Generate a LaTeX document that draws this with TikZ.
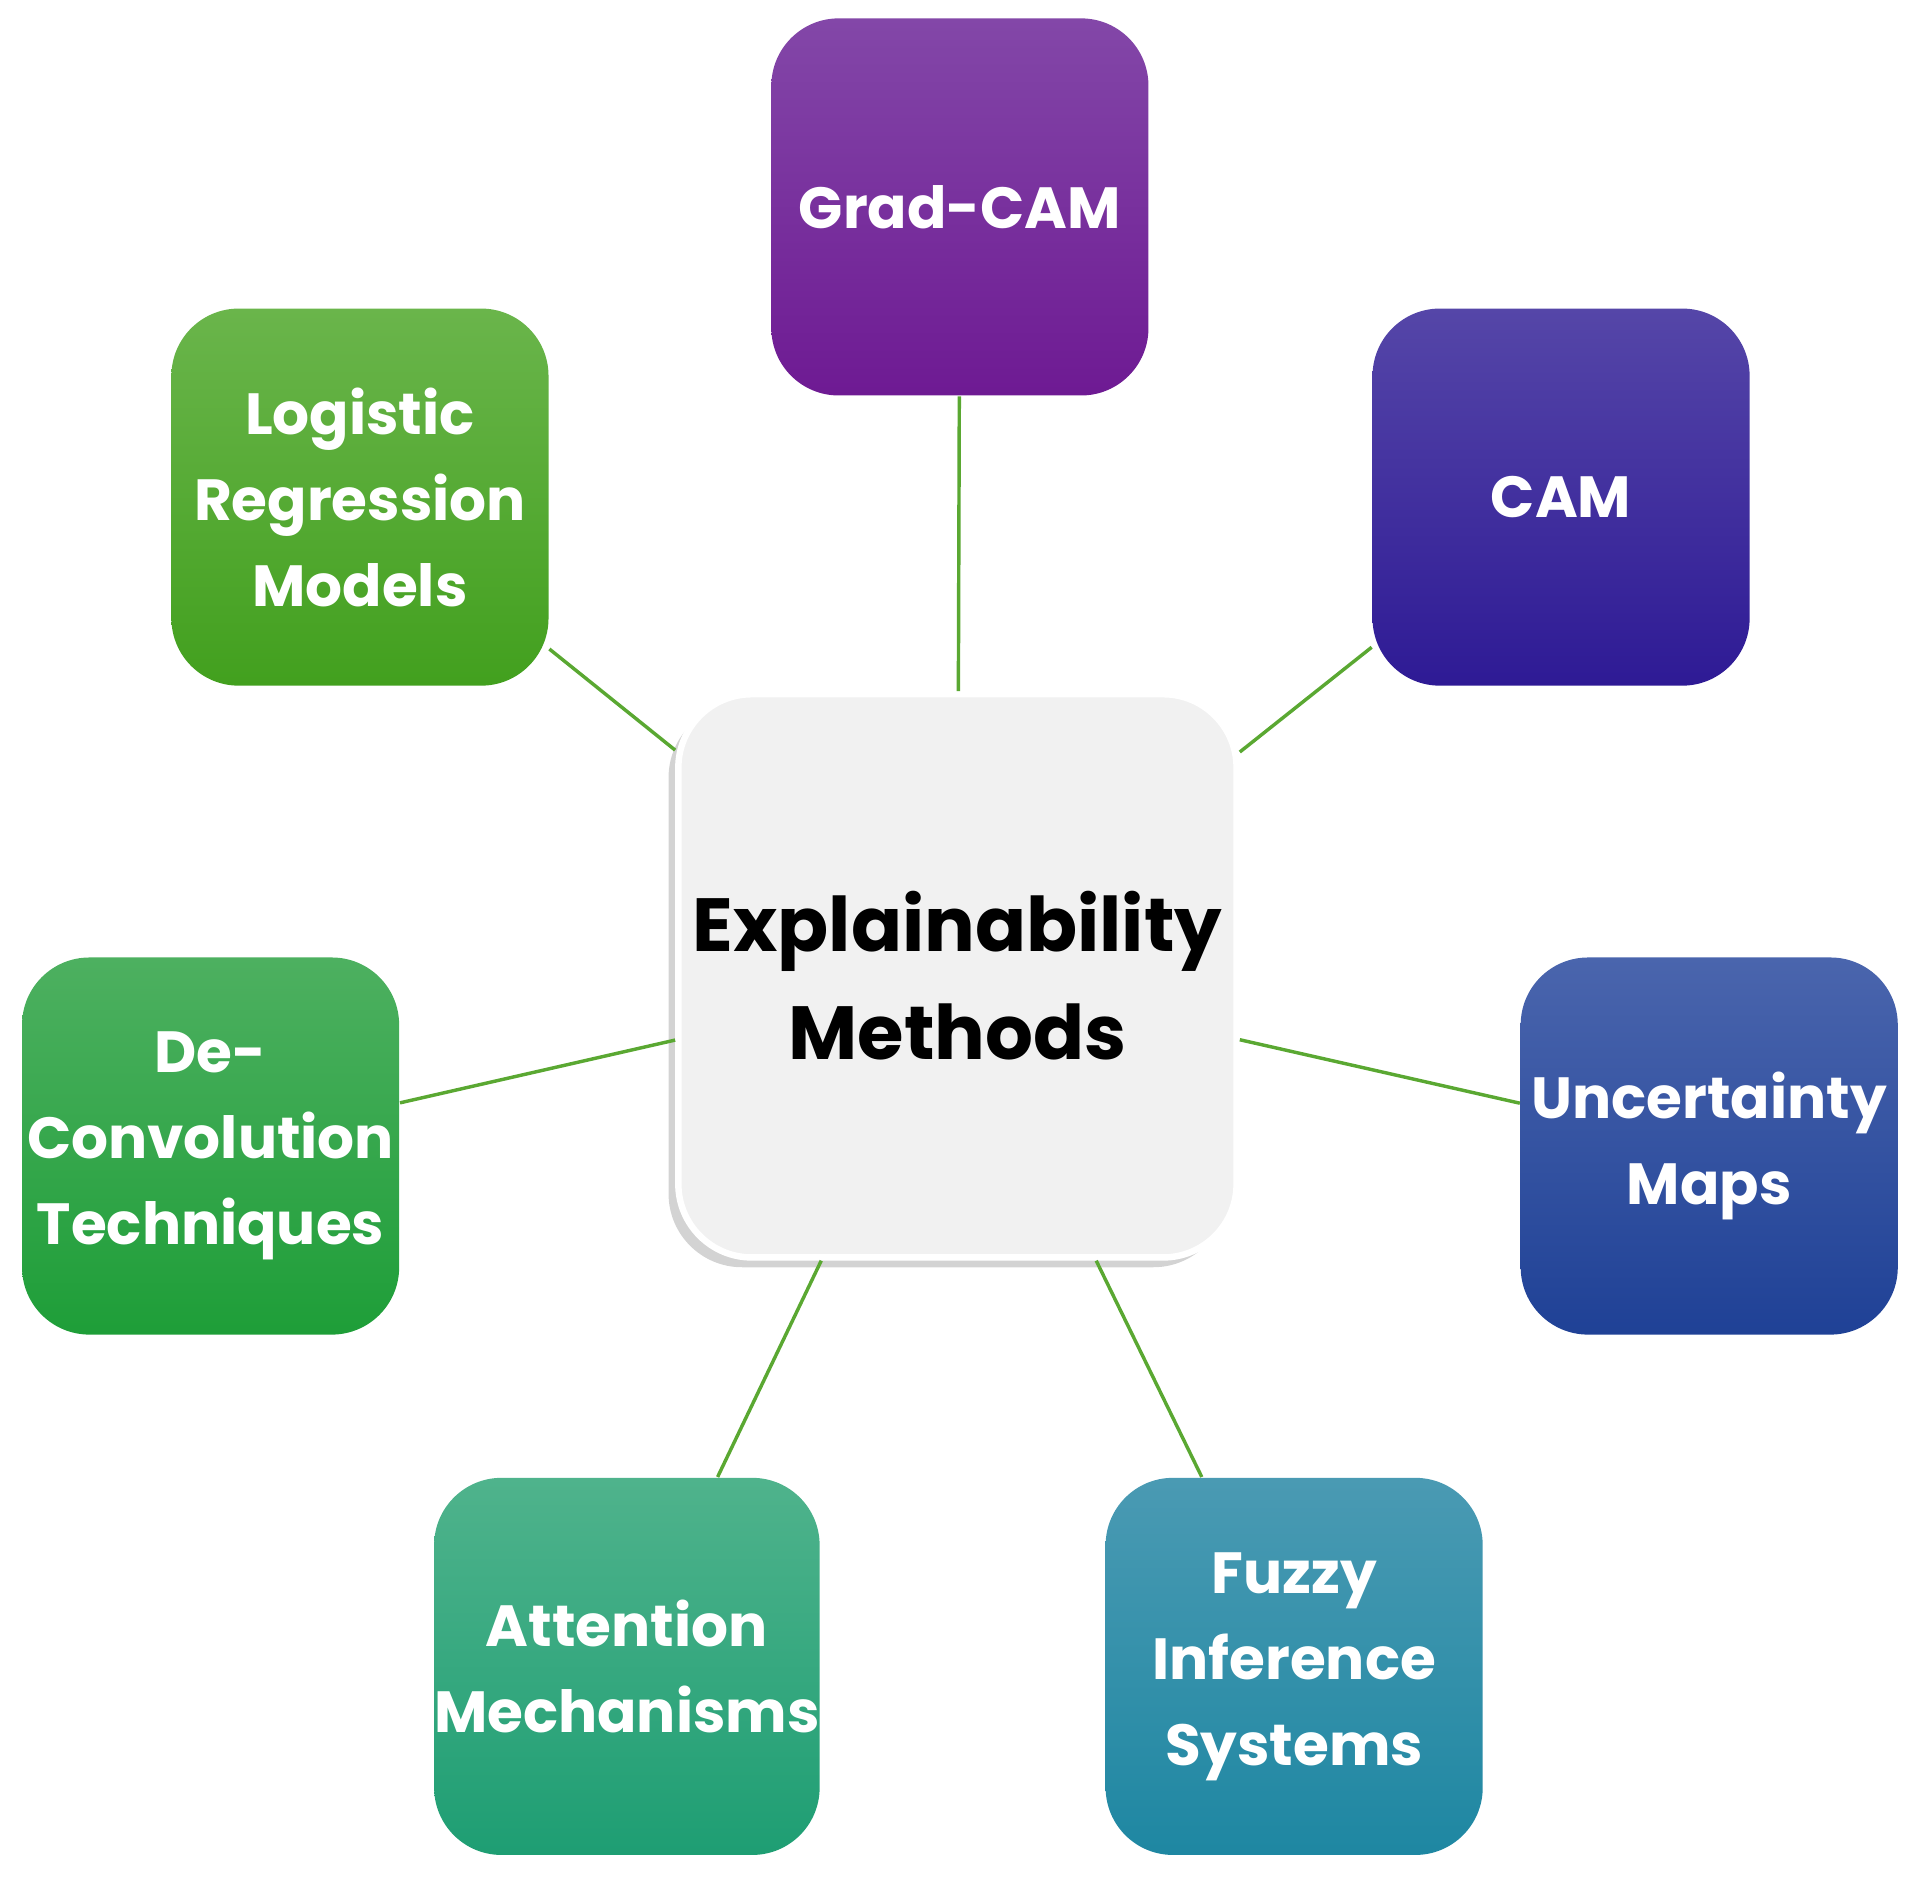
\documentclass[tikz,border=0pt]{standalone}
\usepackage{fontspec}
\setmainfont{Poppins}
\usetikzlibrary{shadows}
\definecolor{linkgreen}{HTML}{5AA832}
\tikzset{
  box/.style={rectangle, rounded corners=0.55cm, minimum width=3.08cm, minimum height=3.08cm,
    text=white, align=center, font=\fontsize{13.5}{20}\selectfont\bfseries, inner sep=0pt},
  link/.style={draw=linkgreen, line width=0.8pt}
}
\begin{document}
\begin{tikzpicture}

\useasboundingbox (0,0) rectangle (15.6,-15.35);

\node (center) at (7.82, -7.97) [rectangle, rounded corners=0.6cm, minimum width=4.55cm, minimum height=4.6cm,
  fill={rgb,255:red,241;green,241;blue,241}, draw=white, line width=1.5pt, align=center,
  drop shadow={shadow xshift=-0.08cm, shadow yshift=-0.08cm, opacity=0.35},
  font=\fontsize{17.5}{25}\selectfont\bfseries] {Explainability\\Methods};

\node (gradcam) at (7.84, -1.69) [box, top color={rgb,255:red,131;green,71;blue,168}, bottom color={rgb,255:red,110;green,26;blue,147}] {Grad-CAM};
\node (cam) at (12.75, -4.06) [box, top color={rgb,255:red,85;green,70;blue,168}, bottom color={rgb,255:red,46;green,26;blue,149}] {CAM};
\node (logreg) at (2.94, -4.06) [box, top color={rgb,255:red,106;green,181;blue,75}, bottom color={rgb,255:red,66;green,160;blue,30}] {Logistic\\Regression\\Models};
\node (deconv) at (1.72, -9.36) [box, top color={rgb,255:red,77;green,176;blue,96}, bottom color={rgb,255:red,30;green,158;blue,56}] {De-\\Convolution\\Techniques};
\node (uncert) at (13.96, -9.36) [box, top color={rgb,255:red,74;green,101;blue,173}, bottom color={rgb,255:red,31;green,65;blue,150}] {Uncertainty\\Maps};
\node (attn) at (5.12, -13.61) [box, top color={rgb,255:red,79;green,179;blue,140}, bottom color={rgb,255:red,30;green,158;blue,115}] {Attention\\Mechanisms};
\node (fuzzy) at (10.57, -13.61) [box, top color={rgb,255:red,74;green,154;blue,179}, bottom color={rgb,255:red,30;green,135;blue,162}] {Fuzzy\\Inference\\Systems};

\draw[link] (gradcam) -- (center);
\draw[link] (cam) -- (center);
\draw[link] (logreg) -- (center);
\draw[link] (deconv) -- (center);
\draw[link] (uncert) -- (center);
\draw[link] (attn) -- (center);
\draw[link] (fuzzy) -- (center);

\end{tikzpicture}
\end{document}
